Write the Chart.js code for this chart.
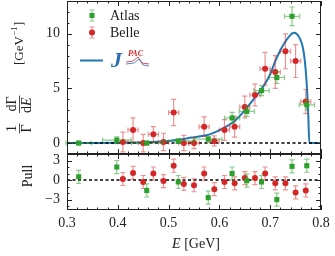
<!DOCTYPE html>
<html>
<head>
<meta charset="utf-8">
<script src="https://cdn.jsdelivr.net/npm/chart.js"></script>
<style>
  html, body { margin: 0; padding: 0; background: #fff; }
  #wrap { position: relative; width: 335px; height: 256px; overflow: hidden; }
  #wrap canvas { position: absolute; left: 0; }
</style>
</head>
<body>
<div id="wrap">
  <canvas id="chartTop" width="335" height="155" style="top:0"></canvas>
  <canvas id="chartPull" width="335" height="102" style="top:154px"></canvas>
</div>
<script>
// ─── DATA ────────────────────────────────────────────────────────────────
const xTicks = [0.3, 0.4, 0.5, 0.6, 0.7, 0.8];
const yTicksTop = [0, 5, 10];
const yTicksPull = [-3, 0, 3];

const atlasE    = [0.323, 0.398, 0.457, 0.519, 0.578, 0.625, 0.654, 0.683, 0.713, 0.743, 0.772];
const atlasV    = [0.0, 0.27, 0.0, 0.18, 0.36, 2.3, 2.9, 4.8, 6.0, 11.6, 3.5];
const atlasErrV = [0.15, 0.3, 0.15, 0.2, 0.25, 0.5, 0.45, 0.45, 0.55, 0.85, 0.45];
const atlasErrE = [0.025, 0.028, 0.03, 0.03, 0.027, 0.015, 0.015, 0.015, 0.015, 0.015, 0.015];
const atlasPull = [0.5, 2.0, -1.6, -0.3, -2.7, 1.0, -0.1, -0.3, -3.0, 2.1, 2.2];

const belleE    = [0.41, 0.43, 0.45, 0.47, 0.49, 0.51, 0.53, 0.55, 0.57, 0.59,
                   0.61, 0.63, 0.65, 0.67, 0.69, 0.71, 0.73, 0.75, 0.77];
const belleV    = [0.1, 1.2, 0.0, 0.8, 0.1, 2.8, 0.0, 0.0, 1.5, 0.2,
                   1.2, 1.5, 3.3, 4.4, 6.8, 6.5, 8.4, 7.5, 3.8];
const belleErrV = [0.9, 1.1, 0.8, 0.7, 0.8, 1.2, 0.7, 0.5, 0.9, 0.45,
                   0.95, 0.95, 1.0, 1.0, 1.5, 1.5, 1.6, 1.5, 1.1];
const belleErrE = [0.01, 0.01, 0.01, 0.01, 0.01, 0.01, 0.01, 0.01, 0.01, 0.01,
                   0.01, 0.01, 0.01, 0.01, 0.01, 0.01, 0.01, 0.01, 0.01];
const bellePull = [0.16, 1.1, -0.3, 1.0, -0.16, 2.2, -0.6, -0.8, 1.0, -1.4,
                   -0.3, -0.5, 0.3, 0.3, 1.0, -0.5, -0.5, -1.9, -1.6];

// JPAC model curve
const modelE = [0.30, 0.35, 0.40, 0.45, 0.50, 0.52, 0.546, 0.56, 0.581, 0.607, 0.627, 0.65,
                0.674, 0.684, 0.70, 0.71, 0.72, 0.73, 0.74, 0.746, 0.752, 0.758, 0.764,
                0.768, 0.771, 0.773, 0.775, 0.777, 0.80];
const modelV = [0.0, 0.01, 0.03, 0.08, 0.2, 0.3, 0.5, 0.6, 0.8, 1.35, 1.9, 3.0,
                4.4, 5.0, 6.3, 7.5, 8.5, 9.3, 9.9, 10.1, 10.0, 9.6, 8.8,
                7.6, 6.0, 4.5, 2.5, 0.0, 0.0];

// ─── STYLE ───────────────────────────────────────────────────────────────
const GREEN = '#2ca02c', GREEN_BAR = 'rgba(44,160,44,0.55)';
const RED = '#d62728', RED_BAR = 'rgba(214,39,40,0.5)';
const BLUE = '#1f77b4';
const INK = '#222';
const SERIF = '"Liberation Serif", "DejaVu Serif", serif';
const CAP = 2.5;

function pts(xs, ys) { return xs.map((x, i) => ({ x, y: ys[i] })); }
function minus(v) { return v < 0 ? '\u2212' + Math.abs(v) : String(v); }
function noPad(s) { s.paddingTop = s.paddingBottom = s.paddingLeft = s.paddingRight = 0; }

// ─── PLUGINS ─────────────────────────────────────────────────────────────
const errorBars = {
  id: 'errorBars',
  beforeDatasetDraw(chart, args) {
    const ds = chart.data.datasets[args.index];
    if (!ds.errY) return;
    const xs = chart.scales.x, ys = chart.scales[args.meta.yAxisID];
    const ctx = chart.ctx;
    ctx.save();
    ctx.strokeStyle = ds.errColor;
    ctx.lineWidth = 1.2;
    ds.data.forEach((p, i) => {
      const px = xs.getPixelForValue(p.x), py = ys.getPixelForValue(p.y);
      const y0 = ys.getPixelForValue(p.y - ds.errY[i]);
      const y1 = ys.getPixelForValue(p.y + ds.errY[i]);
      ctx.beginPath();
      ctx.moveTo(px, y0); ctx.lineTo(px, y1);
      ctx.moveTo(px - CAP, y0); ctx.lineTo(px + CAP, y0);
      ctx.moveTo(px - CAP, y1); ctx.lineTo(px + CAP, y1);
      if (ds.errX) {
        const x0 = xs.getPixelForValue(p.x - ds.errX[i]);
        const x1 = xs.getPixelForValue(p.x + ds.errX[i]);
        ctx.moveTo(x0, py); ctx.lineTo(x1, py);
        ctx.moveTo(x0, py - CAP); ctx.lineTo(x0, py + CAP);
        ctx.moveTo(x1, py - CAP); ctx.lineTo(x1, py + CAP);
      }
      ctx.stroke();
    });
    ctx.restore();
  }
};

// frame + inward major/minor ticks on all four sides
const frame = {
  id: 'frame',
  afterDraw(chart, args, opts) {
    const { ctx, chartArea: a } = chart;
    const xs = chart.scales.x, ys = chart.scales.y;
    ctx.save();
    ctx.strokeStyle = INK;
    ctx.lineWidth = 1;
    ctx.strokeRect(Math.round(a.left) + 0.5, Math.round(a.top) + 0.5,
                   Math.round(a.width) - 1, Math.round(a.height) - 1);
    ctx.beginPath();
    const xt = (v, len) => {
      const p = Math.round(xs.getPixelForValue(v)) + 0.5;
      ctx.moveTo(p, a.top); ctx.lineTo(p, a.top + len);
      ctx.moveTo(p, a.bottom); ctx.lineTo(p, a.bottom - len);
    };
    const yt = (v, len) => {
      const p = Math.round(ys.getPixelForValue(v)) + 0.5;
      ctx.moveTo(a.left, p); ctx.lineTo(a.left + len, p);
      ctx.moveTo(a.right, p); ctx.lineTo(a.right - len, p);
    };
    for (let k = 0; k <= 25; k++) xt(0.3 + k * 0.02, k % 5 === 0 ? 5 : 2.5);
    const yMin = Math.ceil(ys.min / opts.yMinor - 1e-6) * opts.yMinor;
    for (let v = yMin; v <= ys.max + 1e-6; v += opts.yMinor) yt(v, 2.5);
    opts.yMajor.forEach(v => yt(v, 5));
    ctx.stroke();
    ctx.restore();
  }
};

const titles = {
  id: 'titles',
  afterDraw(chart, args, opts) {
    const ctx = chart.ctx;
    ctx.save();
    ctx.fillStyle = INK;
    ctx.strokeStyle = INK;
    ctx.textBaseline = 'middle';
    ctx.textAlign = 'center';
    if (opts.which === 'top') {
      // rotated "1/Γ dΓ/dE [GeV^-1]"
      ctx.translate(19, 113);
      ctx.rotate(-Math.PI / 2);
      ctx.font = '14px ' + SERIF;
      ctx.fillText('1', -15.5, -7);
      ctx.fillText('\u0393', -15.5, 8);
      ctx.fillText('d\u0393', 9, -7);
      ctx.textAlign = 'left';
      ctx.fillText('d', 0, 8);
      ctx.font = 'italic 14px ' + SERIF;
      ctx.fillText('E', 7, 8);
      ctx.lineWidth = 0.8;
      ctx.beginPath();
      ctx.moveTo(-20.5, 0.5); ctx.lineTo(-10.5, 0.5);
      ctx.moveTo(0, 0.5); ctx.lineTo(17.5, 0.5);
      ctx.stroke();
      ctx.font = '13px ' + SERIF;
      ctx.fillText('[GeV', 48, 1);
      const w = ctx.measureText('[GeV').width;
      ctx.font = '9px ' + SERIF;
      ctx.fillText('\u22121', 48 + w, -4);
      const w2 = ctx.measureText('\u22121').width;
      ctx.font = '13px ' + SERIF;
      ctx.fillText(']', 48 + w + w2 + 0.5, 1);
    } else {
      ctx.save();
      ctx.translate(28, 22);
      ctx.rotate(-Math.PI / 2);
      ctx.font = '14px ' + SERIF;
      ctx.fillText('Pull', 0, 0);
      ctx.restore();
      ctx.textAlign = 'left';
      ctx.font = 'italic 14px ' + SERIF;
      const wE = ctx.measureText('E').width;
      ctx.font = '14px ' + SERIF;
      const wG = ctx.measureText(' [GeV]').width;
      const x0 = 196 - (wE + wG) / 2;
      ctx.font = 'italic 14px ' + SERIF;
      ctx.fillText('E', x0, 90);
      ctx.font = '14px ' + SERIF;
      ctx.fillText(' [GeV]', x0 + wE, 90);
    }
    ctx.restore();
  }
};

const legendBox = {
  id: 'legendBox',
  afterDraw(chart) {
    const ctx = chart.ctx;
    ctx.save();
    ctx.lineWidth = 1.2;
    // Atlas
    ctx.strokeStyle = GREEN_BAR;
    ctx.beginPath();
    ctx.moveTo(92, 10); ctx.lineTo(92, 21);
    ctx.moveTo(92 - CAP, 10); ctx.lineTo(92 + CAP, 10);
    ctx.moveTo(92 - CAP, 21); ctx.lineTo(92 + CAP, 21);
    ctx.stroke();
    ctx.fillStyle = GREEN;
    ctx.fillRect(89.5, 13, 5, 5);
    // Belle
    ctx.strokeStyle = RED_BAR;
    ctx.beginPath();
    ctx.moveTo(92, 27); ctx.lineTo(92, 38);
    ctx.moveTo(92 - CAP, 27); ctx.lineTo(92 + CAP, 27);
    ctx.moveTo(92 - CAP, 38); ctx.lineTo(92 + CAP, 38);
    ctx.stroke();
    ctx.fillStyle = RED;
    ctx.beginPath(); ctx.arc(92, 32.5, 3, 0, Math.PI * 2); ctx.fill();
    ctx.fillStyle = INK;
    ctx.font = '14px ' + SERIF;
    ctx.textBaseline = 'middle';
    ctx.fillText('Atlas', 110, 16);
    ctx.fillText('Belle', 110, 33);
    // JPAC
    ctx.strokeStyle = BLUE;
    ctx.lineWidth = 2;
    ctx.beginPath(); ctx.moveTo(80, 60.5); ctx.lineTo(103, 60.5); ctx.stroke();
    ctx.fillStyle = '#2a6db3';
    ctx.font = 'italic bold 22px ' + SERIF;
    ctx.textBaseline = 'alphabetic';
    ctx.fillText('J', 111, 67);
    ctx.fillStyle = RED;
    ctx.font = 'italic bold 8px ' + SERIF;
    ctx.fillText('PAC', 128, 56);
    ctx.lineWidth = 0.8;
    ctx.strokeStyle = RED;
    ctx.beginPath();
    ctx.moveTo(126, 62); ctx.lineTo(133, 61); ctx.lineTo(138, 57); ctx.lineTo(142, 63); ctx.lineTo(149, 64);
    ctx.stroke();
    ctx.strokeStyle = '#2a6db3';
    ctx.beginPath();
    ctx.moveTo(126, 64); ctx.lineTo(134, 63); ctx.lineTo(139, 59); ctx.lineTo(143, 65); ctx.lineTo(149, 66);
    ctx.stroke();
    ctx.restore();
  }
};

// ─── CHARTS ──────────────────────────────────────────────────────────────
const tickFont = { family: SERIF, size: 14 };

function yScale(min, max, ticks) {
  return {
    type: 'linear', min, max,
    afterFit(s) { s.width = 67; noPad(s); },
    afterBuildTicks(s) { s.ticks = ticks.map(v => ({ value: v })); },
    grid: { display: false, drawTicks: false },
    border: { display: false },
    ticks: { color: INK, font: tickFont, padding: 7, callback: minus }
  };
}

new Chart(document.getElementById('chartTop'), {
  type: 'scatter',
  data: {
    datasets: [
      { label: 'Atlas', data: pts(atlasE, atlasV), pointStyle: 'rect', pointRadius: 3.6,
        backgroundColor: GREEN, borderColor: GREEN, borderWidth: 0,
        errY: atlasErrV, errX: atlasErrE, errColor: GREEN_BAR, order: 1 },
      { label: 'Belle', data: pts(belleE, belleV), pointStyle: 'circle', pointRadius: 3,
        backgroundColor: RED, borderColor: RED, borderWidth: 0,
        errY: belleErrV, errX: belleErrE, errColor: RED_BAR, order: 2 },
      { type: 'line', label: 'zero', data: pts([0.3, 0.8], [0, 0]), borderColor: '#000',
        borderWidth: 1.5, borderDash: [3, 2.5], pointRadius: 0, order: 3 },
      { type: 'line', label: 'JPAC', data: pts(modelE, modelV), borderColor: BLUE,
        borderWidth: 2, pointRadius: 0, cubicInterpolationMode: 'monotone', order: 4 }
    ]
  },
  options: {
    responsive: false, animation: false,
    layout: { autoPadding: false, padding: { top: 1, right: 14, left: 0, bottom: 1 } },
    plugins: {
      legend: { display: false }, tooltip: { enabled: false },
      frame: { yMinor: 1, yMajor: yTicksTop },
      titles: { which: 'top' }
    },
    scales: {
      x: { type: 'linear', min: 0.3, max: 0.8, display: false, afterFit: noPad },
      y: yScale(-1, 13, yTicksTop)
    }
  },
  plugins: [errorBars, frame, titles, legendBox]
});

new Chart(document.getElementById('chartPull'), {
  type: 'scatter',
  data: {
    datasets: [
      { label: 'Atlas', data: pts(atlasE, atlasPull), pointStyle: 'rect', pointRadius: 3.6,
        backgroundColor: GREEN, borderColor: GREEN, borderWidth: 0,
        errY: atlasPull.map(() => 1), errColor: GREEN_BAR, order: 1 },
      { label: 'Belle', data: pts(belleE, bellePull), pointStyle: 'circle', pointRadius: 3,
        backgroundColor: RED, borderColor: RED, borderWidth: 0,
        errY: bellePull.map(() => 1), errColor: RED_BAR, order: 2 },
      { type: 'line', label: 'zero', data: pts([0.3, 0.8], [0, 0]), borderColor: '#000',
        borderWidth: 1.5, borderDash: [3, 2.5], pointRadius: 0, order: 3 }
    ]
  },
  options: {
    responsive: false, animation: false,
    layout: { autoPadding: false, padding: { top: 0, right: 14, left: 0, bottom: 0 } },
    plugins: {
      legend: { display: false }, tooltip: { enabled: false },
      frame: { yMinor: 1, yMajor: yTicksPull },
      titles: { which: 'pull' }
    },
    scales: {
      x: {
        type: 'linear', min: 0.3, max: 0.8,
        afterFit(s) { s.height = 46; noPad(s); },
        afterBuildTicks(s) { s.ticks = xTicks.map(v => ({ value: v })); },
        grid: { display: false, drawTicks: false },
        border: { display: false },
        ticks: { color: INK, font: tickFont, padding: 5, maxRotation: 0, autoSkip: false,
                 callback: v => v.toFixed(1) }
      },
      y: yScale(-4.6, 4, yTicksPull)
    }
  },
  plugins: [errorBars, frame, titles]
});
</script>
</body>
</html>
